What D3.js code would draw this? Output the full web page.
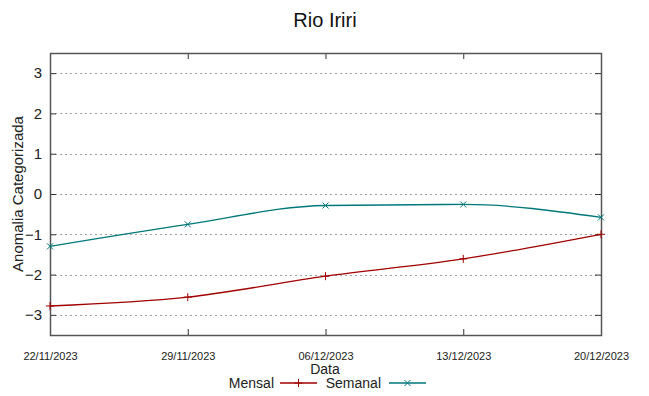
<!DOCTYPE html>
<html>
<head>
<meta charset="utf-8">
<script src="https://cdn.jsdelivr.net/npm/d3@7"></script>
<style>
  body { margin: 0; background: #fff; }
  svg { font-family: "Liberation Sans", Arial, sans-serif; }
</style>
</head>
<body>
<div id="chart"></div>
<script>
// data
const dates = ['22/11/2023', '29/11/2023', '06/12/2023', '13/12/2023', '20/12/2023'];
const mensal = [-2.78, -2.56, -2.04, -1.61, -1.00];
const semanal = [-1.30, -0.755, -0.285, -0.26, -0.58];
const yTicks = [-3, -2, -1, 0, 1, 2, 3];

const width = 649, height = 396;
const margin = { top: 53, right: 48, bottom: 61, left: 50 };
const parse = d3.timeParse('%d/%m/%Y');

const svg = d3.select('#chart').append('svg')
  .attr('width', width)
  .attr('height', height);

const x = d3.scaleTime()
  .domain(d3.extent(dates, parse))
  .range([margin.left, width - margin.right]);

const y = d3.scaleLinear()
  .domain([-3.5, 3.5])
  .range([height - margin.bottom, margin.top]);

// horizontal grid
svg.append('g')
  .selectAll('line')
  .data(yTicks)
  .enter().append('line')
  .attr('x1', margin.left)
  .attr('x2', width - margin.right)
  .attr('y1', d => Math.round(y(d)) + 0.5)
  .attr('y2', d => Math.round(y(d)) + 0.5)
  .attr('stroke', '#a0a0a0')
  .attr('stroke-width', 1)
  .attr('stroke-dasharray', '2,3');

// axes, ticks pointing inward, mirrored on the opposite side
const xAxis = svg.append('g')
  .attr('transform', `translate(0,${height - margin.bottom})`)
  .call(d3.axisBottom(x).tickValues(dates.map(parse)).tickFormat(d3.timeFormat('%d/%m/%Y')).tickSizeInner(-6).tickSizeOuter(0).tickPadding(17));
xAxis.select('.domain').remove();
xAxis.selectAll('text').attr('font-size', 11).attr('fill', '#222');

const xTop = svg.append('g')
  .attr('transform', `translate(0,${margin.top})`)
  .call(d3.axisTop(x).tickValues(dates.map(parse)).tickFormat('').tickSizeInner(-6).tickSizeOuter(0));
xTop.select('.domain').remove();

const yAxis = svg.append('g')
  .attr('transform', `translate(${margin.left},0)`)
  .call(d3.axisLeft(y).tickValues(yTicks).tickFormat(d3.format('d')).tickSizeInner(-6).tickSizeOuter(0).tickPadding(8));
yAxis.select('.domain').remove();
yAxis.selectAll('text').attr('font-size', 15).attr('fill', '#222');

const yRight = svg.append('g')
  .attr('transform', `translate(${width - margin.right},0)`)
  .call(d3.axisRight(y).tickValues(yTicks).tickFormat('').tickSizeInner(-6).tickSizeOuter(0));
yRight.select('.domain').remove();

svg.selectAll('.tick line').attr('stroke', '#333');

// frame
svg.append('rect')
  .attr('x', margin.left + 0.5)
  .attr('y', margin.top + 0.5)
  .attr('width', width - margin.right - margin.left)
  .attr('height', height - margin.bottom - margin.top)
  .attr('fill', 'none')
  .attr('stroke', '#555')
  .attr('stroke-width', 1.5);

const series = [
  { name: 'Mensal', values: mensal, color: '#a00000', marker: 'plus' },
  { name: 'Semanal', values: semanal, color: '#00787a', marker: 'cross' }
];

const line = d3.line()
  .x((d, i) => x(parse(dates[i])))
  .y(d => y(d))
  .curve(d3.curveMonotoneX);

const markerPath = (type, cx, cy, s) => type === 'plus'
  ? `M${cx - s},${cy}H${cx + s}M${cx},${cy - s}V${cy + s}`
  : `M${cx - s},${cy - s}L${cx + s},${cy + s}M${cx - s},${cy + s}L${cx + s},${cy - s}`;

series.forEach(s => {
  svg.append('path')
    .datum(s.values)
    .attr('d', line)
    .attr('fill', 'none')
    .attr('stroke', s.color)
    .attr('stroke-width', 1.3);

  svg.append('g')
    .selectAll('path')
    .data(s.values)
    .enter().append('path')
    .attr('d', (d, i) => markerPath(s.marker, x(parse(dates[i])), y(d), s.marker === 'plus' ? 4 : 3))
    .attr('stroke', s.color)
    .attr('stroke-width', 1)
    .attr('fill', 'none');
});

// title and labels
svg.append('text')
  .attr('x', 325).attr('y', 27)
  .attr('text-anchor', 'middle')
  .attr('font-size', 20)
  .attr('fill', '#111')
  .text('Rio Iriri');

svg.append('text')
  .attr('transform', 'translate(23,' + ((margin.top + height - margin.bottom) / 2) + ') rotate(-90)')
  .attr('text-anchor', 'middle')
  .attr('font-size', 15)
  .attr('fill', '#222')
  .text('Anomalia Categorizada');

svg.append('text')
  .attr('x', 325).attr('y', 374)
  .attr('text-anchor', 'middle')
  .attr('font-size', 14)
  .attr('fill', '#222')
  .text('Data');

// legend
const legend = [
  { name: 'Mensal', textEnd: 274, x0: 280, x1: 317 },
  { name: 'Semanal', textEnd: 381, x0: 389, x1: 426 }
];
legend.forEach((l, i) => {
  const s = series[i];
  const ly = 383;
  svg.append('text')
    .attr('x', l.textEnd).attr('y', ly + 5)
    .attr('text-anchor', 'end')
    .attr('font-size', 14)
    .attr('fill', '#222')
    .text(l.name);
  svg.append('line')
    .attr('x1', l.x0).attr('x2', l.x1)
    .attr('y1', ly).attr('y2', ly)
    .attr('stroke', s.color)
    .attr('stroke-width', 1.3);
  svg.append('path')
    .attr('d', markerPath(s.marker, (l.x0 + l.x1) / 2, ly, s.marker === 'plus' ? 4 : 3))
    .attr('stroke', s.color)
    .attr('stroke-width', 1)
    .attr('fill', 'none');
});
</script>
</body>
</html>
